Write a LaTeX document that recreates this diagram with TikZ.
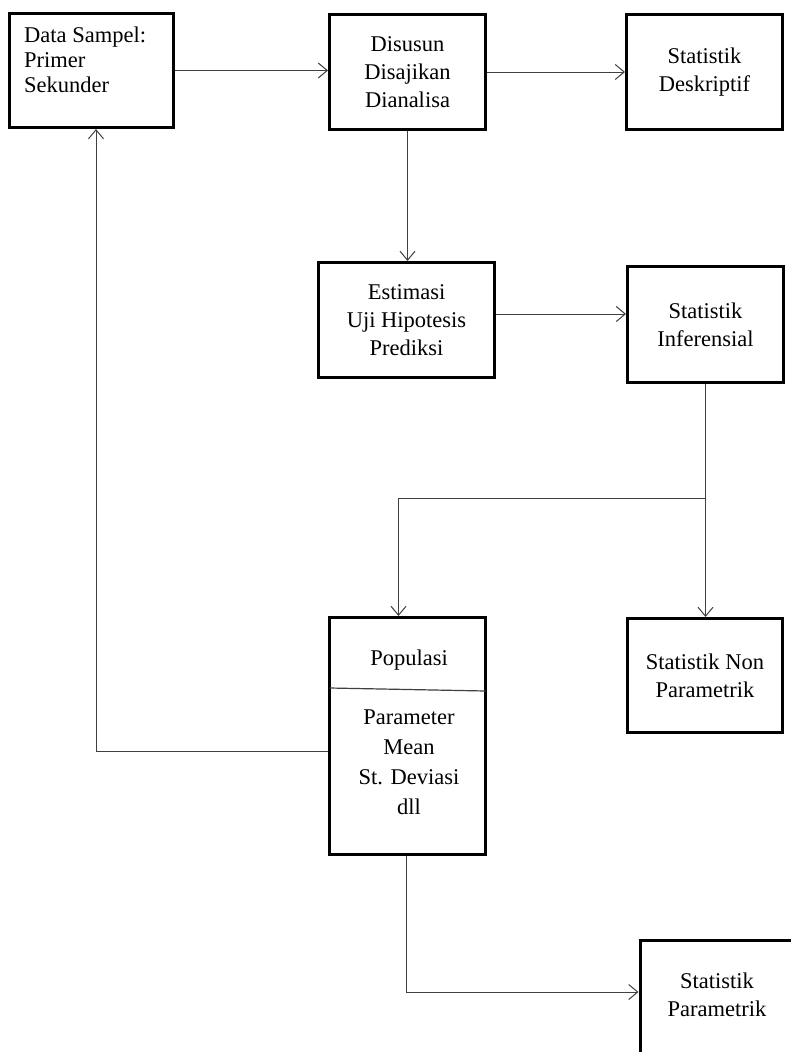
\documentclass[tikz,border=0pt]{standalone}
\usepackage{fontspec}
\setmainfont{Liberation Serif}
\usetikzlibrary{arrows.meta,calc}
\begin{document}
\begin{tikzpicture}[x=1pt,y=-1pt,
  box/.style 2 args={draw=black, line width=3pt, minimum width=#1, minimum height=#2,
    inner sep=0pt, align=center, font=\fontsize{22.5}{28}\selectfont},
  txt/.style={inner sep=0pt, font=\fontsize{22.5}{28}\selectfont},
  link/.style={draw=black!75, line width=1pt,
    -{Straight Barb[length=9pt,width=15pt,line width=1pt]}},
  rule/.style={draw=black!75, line width=1.2pt}]
\useasboundingbox (0,0) rectangle (791,1052);
\clip (0,0) rectangle (791,1052);
\fill[white] (0,0) rectangle (791,1052);

% boxes
\node[box={164}{114}] (data) at (91.5,70.5) {};
\node[txt, align=left, anchor=west, font=\fontsize{22.5}{25}\selectfont] (datatext) at (24,60)
  {Data Sampel:\\Primer\\Sekunder};
\node[box={156}{115}] (disusun) at (407.5,72) {Disusun\\Disajikan\\Dianalisa};
\node[box={156}{115}] (deskriptif) at (704.5,72) {Statistik\\Deskriptif};
\node[box={176}{115}] (estimasi) at (406.5,320) {Estimasi\\Uji Hipotesis\\Prediksi};
\node[box={156}{116}] (inferensial) at (705.5,324.5) {Statistik\\Inferensial};
\node[box={156}{237}] (populasi) at (407.5,736) {};
\node[txt] (poptitle) at (409,660) {Populasi};
\node[txt, align=center, font=\fontsize{22.5}{30}\selectfont] (popbody) at (409,762)
  {Parameter\\Mean\\St. Deviasi\\dll};
\node[box={155}{114}] (nonpar) at (705,675.5) {Statistik Non\\Parametrik};
% this box runs past the lower right corner of the page
\node[box={166}{124}, anchor=north west] (parametrik) at (638.5,938.5) {};
\node[txt, align=center] (paramtext) at (717,994.5) {Statistik\\Parametrik};

% divider inside the population box
\draw[rule] ($(populasi.west)+(1.5,-48)$) -- ($(populasi.east)+(-1.5,-45)$);

% connectors
\draw[link] (data.east) -- (data.east -| disusun.west);
\draw[link] (disusun.east) -- (disusun.east -| deskriptif.west);
\draw[link] (disusun.south) -- (disusun.south |- estimasi.north);

\coordinate (eout) at ($(estimasi.east)+(0,-6)$);
\draw[link] (eout) -- (eout -| inferensial.west);

\path (inferensial.south) ++(0,114) coordinate (split);
\coordinate (popin) at ($(populasi.north)+(-9,0)$);
\draw[link] (inferensial.south) -- (split) -| (popin);
\draw[link] (split) -- (split |- nonpar.north);

\coordinate (popout) at ($(populasi.west)+(0,15)$);
\coordinate (datain) at ($(data.south)+(4.5,0)$);
\draw[link] (popout) -| (datain);

\coordinate (popdown) at ($(populasi.south)+(-1.5,0)$);
\coordinate (corner) at ($(popdown)+(0,136)$);
\draw[link] (popdown) -- (corner) -- (corner -| parametrik.west);
\end{tikzpicture}
\end{document}
